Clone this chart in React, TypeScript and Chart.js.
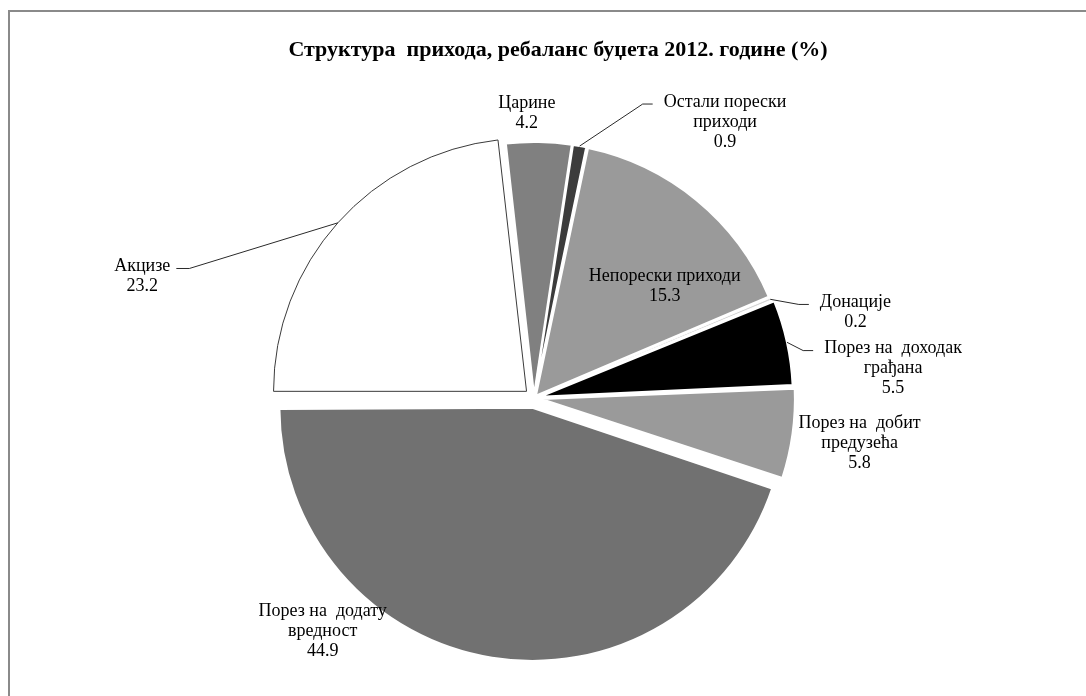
import React, { useEffect, useRef } from 'react';
import { Chart, registerables } from 'chart.js';

Chart.register(...registerables);

// ---- data ----
const chartTitle = 'Структура  прихода, ребаланс буџета 2012. године (%)';
const categories = [
  'Царине',
  'Остали порески приходи',
  'Непорески приходи',
  'Донације',
  'Порез на доходак грађана',
  'Порез на добит предузећа',
  'Порез на додату вредност',
  'Акцизе',
];
const labelLines = [
  ['Царине'],
  ['Остали порески', 'приходи'],
  ['Непорески приходи'],
  ['Донације'],
  ['Порез на  доходак', 'грађана'],
  ['Порез на  добит', 'предузећа'],
  ['Порез на  додату', 'вредност'],
  ['Акцизе'],
];
const shares = [4.2, 0.9, 15.3, 0.2, 5.5, 5.8, 44.9, 23.2];

// ---- styles / layout ----
const sliceColors = ['#808080', '#3c3c3c', '#9a9a9a', '#d4d4d4', '#000000', '#9a9a9a', '#717171', '#ffffff'];
const sliceBorderColors = ['#ffffff', '#ffffff', '#ffffff', '#ffffff', '#ffffff', '#ffffff', '#ffffff', '#3a3a3a'];
const sliceBorderWidths = [2, 2, 2, 1, 2, 2, 2, 1];
const explodePx = [3, 3, 3, 3, 6, 8, 10, 10];
const labelShift = [
  [-12, -32],
  [146, -27],
  [-30, 84],
  [88, 12],
  [112, 25],
  [75, 10],
  [-171, -16],
  [-203, 47],
];
const hasLeader = [false, true, false, true, true, false, false, true];
const PIE_RADIUS = 253;
const LINE_H = 20;
const FONT = "'Liberation Serif', 'Times New Roman', serif";

const labelsPlugin = {
  id: 'pieLabels',
  afterDatasetsUpdate(chart: any) {
    const meta = chart.getDatasetMeta(0);
    meta.data.forEach((el: any, i: number) => {
      const off = explodePx[i] || 0;
      const fix = 1 - Math.sin(Math.min(Math.PI, el.circumference || 0));
      el.outerRadius = PIE_RADIUS - off * fix;
    });
  },
  afterDraw(chart: any) {
    const ctx = chart.ctx;
    const meta = chart.getDatasetMeta(0);
    ctx.save();
    // title
    ctx.fillStyle = '#000';
    ctx.font = `bold 22px ${FONT}`;
    ctx.textAlign = 'center';
    ctx.textBaseline = 'middle';
    ctx.fillText(chartTitle, 558, 50);

    ctx.font = `18px ${FONT}`;
    meta.data.forEach((el: any, i: number) => {
      const mid = (el.startAngle + el.endAngle) / 2;
      const ax = el.x + Math.cos(mid) * PIE_RADIUS;
      const ay = el.y + Math.sin(mid) * PIE_RADIUS;
      const cx = ax + labelShift[i][0];
      const cy = ay + labelShift[i][1];
      const lines = [...labelLines[i], shares[i].toFixed(1)];
      const top = cy - ((lines.length - 1) * LINE_H) / 2;
      ctx.fillStyle = '#000';
      lines.forEach((t, k) => ctx.fillText(t, cx, top + k * LINE_H));
      if (hasLeader[i]) {
        const w = Math.max(...lines.map((t) => ctx.measureText(t).width));
        const sx = ax + Math.cos(mid) * explodePx[i];
        const sy = ay + Math.sin(mid) * explodePx[i];
        const y = top + 2;
        let endX: number;
        let elbowX: number;
        if (cx > ax) {
          endX = cx - w / 2 - 11;
          elbowX = endX - 10;
        } else {
          endX = cx + w / 2 + 6;
          elbowX = endX + 13;
        }
        ctx.strokeStyle = '#2a2a2a';
        ctx.lineWidth = 1;
        ctx.beginPath();
        ctx.moveTo(sx, sy);
        ctx.lineTo(elbowX, y);
        ctx.lineTo(endX, y);
        ctx.stroke();
      }
    });
    ctx.restore();
  },
};

export default function App() {
  const ref = useRef<HTMLCanvasElement | null>(null);
  useEffect(() => {
    document.body.style.overflow = 'hidden';
    const canvas = ref.current;
    if (!canvas) return;
    const chart = new Chart(canvas, {
      type: 'pie',
      data: {
        labels: categories,
        datasets: [
          {
            data: shares,
            backgroundColor: sliceColors,
            borderColor: sliceBorderColors,
            borderWidth: sliceBorderWidths,
            offset: explodePx.map((v) => v * 4),
          },
        ],
      },
      options: {
        responsive: false,
        animation: false,
        devicePixelRatio: 1,
        rotation: -6.48,
        radius: PIE_RADIUS,
        layout: { padding: { left: 100, right: 118, top: 130, bottom: 30 } },
        plugins: {
          legend: { display: false },
          tooltip: { enabled: false },
          title: { display: false },
        },
        events: [],
      } as any,
      plugins: [labelsPlugin],
    });
    return () => chart.destroy();
  }, []);

  return (
    <div>
      <canvas
        ref={ref}
        width={1086}
        height={696}
        style={{ position: 'absolute', left: 0, top: 0, width: 1086, height: 696 }}
      />
      <div style={{ position: 'absolute', left: 8, top: 10, width: 1078, height: 2, background: '#8a8a8a' }} />
      <div style={{ position: 'absolute', left: 8, top: 10, width: 2, height: 686, background: '#8a8a8a' }} />
    </div>
  );
}
